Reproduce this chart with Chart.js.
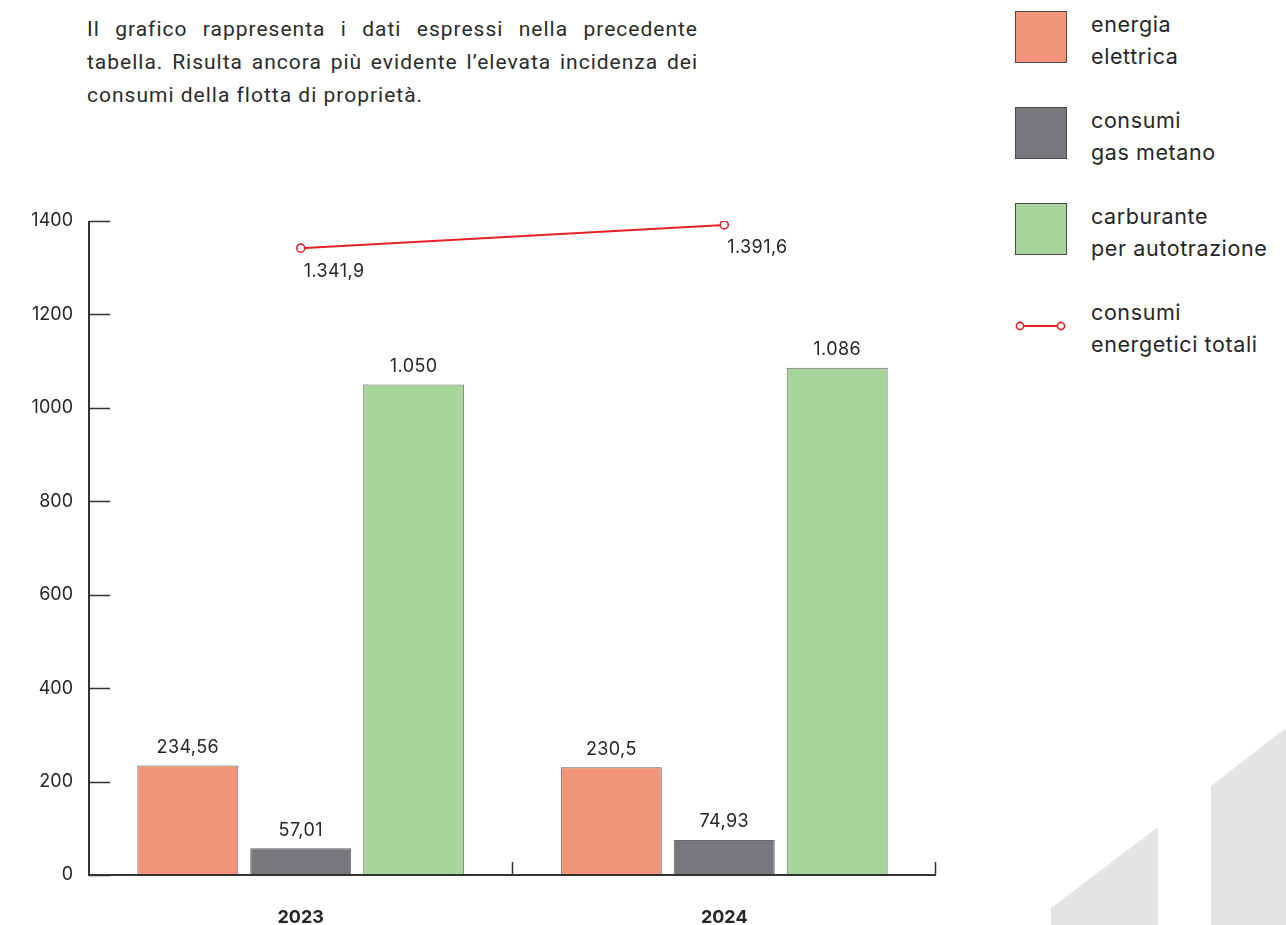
<!DOCTYPE html>
<html lang="it">
<head>
<meta charset="utf-8">
<script src="https://cdn.jsdelivr.net/npm/chart.js@4.4.1/dist/chart.umd.min.js"></script>
<style>
    html, body {
        margin: 0;
        padding: 0;
        background: #ffffff;
        width: 1286px;
        height: 925px;
        overflow: hidden;
        position: relative;
        font-family: "Inter", "Noto Sans", sans-serif;
        color: #262626;
    }
    #deco {
        position: absolute;
        left: 0;
        top: 0;
    }
    #intro {
        position: absolute;
        left: 87px;
        top: 13px;
        width: 611px;
        font-family: "Roboto", "Noto Sans", sans-serif;
        font-size: 21px;
        letter-spacing: 1px;
        line-height: 33px;
        margin: 0;
        color: #2b2b2b;
    }
    #intro .full {
        text-align: justify;
        text-align-last: justify;
    }
    #chart-wrap {
        position: absolute;
        left: 0;
        top: 0;
        width: 960px;
        height: 925px;
    }
    #legend {
        position: absolute;
        left: 1015px;
        top: 11px;
    }
    .legend-item {
        position: relative;
        height: 96px;
    }
    .legend-box {
        position: absolute;
        left: 0;
        top: 0;
        width: 52px;
        height: 52px;
        box-sizing: border-box;
        border: 1px solid #4a4a4a;
    }
    .legend-text {
        position: absolute;
        left: 76px;
        top: -3px;
        font-size: 21.5px;
        letter-spacing: 0.6px;
        line-height: 32px;
        white-space: nowrap;
        color: #262626;
    }
</style>
</head>
<body>
<svg id="deco" width="1286" height="925">
    <polygon points="1051,908 1158,827 1158,925 1051,925" fill="#e4e4e4"></polygon>
    <polygon points="1211,786 1286,728 1286,925 1211,925" fill="#e4e4e4"></polygon>
</svg>

<div id="intro">
    <div class="full">Il grafico rappresenta i dati espressi nella precedente</div>
    <div class="full">tabella. Risulta ancora più evidente l’elevata incidenza dei</div>
    <div>consumi della flotta di proprietà.</div>
</div>

<div id="chart-wrap"><canvas id="energy-chart" width="960" height="925"></canvas></div>

<div id="legend"></div>

<script>
// Data
const years = ["2023", "2024"];
const energiaElettrica = [234.56, 230.5];
const gasMetano = [57.01, 74.93];
const carburante = [1050, 1086];
const consumiTotali = [1341.9, 1391.6];
const yTicks = [0, 200, 400, 600, 800, 1000, 1200, 1400];

const seriesNames = {
    energia: ["energia", "elettrica"],
    gas: ["consumi", "gas metano"],
    carburante: ["carburante", "per autotrazione"],
    totali: ["consumi", "energetici totali"],
};

const colors = {
    energia: "#f0957a",
    gas: "#77787c",
    carburante: "#a7d59b",
    totali: "#e6212a",
    axis: "#333333",
    text: "#262626",
};

// Italian number format: 1.341,9
function formatIt(v) {
    const parts = String(v).split(".");
    const intPart = parts[0].replace(/\B(?=(\d{3})+(?!\d))/g, ".");
    return parts.length > 1 ? intPart + "," + parts[1] : intPart;
}

/**
 * Build the HTML legend on the right
 */
function buildLegend() {
    const legend = document.getElementById("legend");
    const items = [
        { key: "energia", type: "box" },
        { key: "gas", type: "box" },
        { key: "carburante", type: "box" },
        { key: "totali", type: "line" },
    ];
    items.forEach((item) => {
        const row = document.createElement("div");
        row.className = "legend-item";
        let symbol;
        if (item.type === "box") {
            symbol = `<div class="legend-box" style="background:${colors[item.key]}"></div>`;
        } else {
            symbol = `<svg style="position:absolute;left:0;top:20px" width="52" height="14">
                <line x1="5" y1="7" x2="46" y2="7" stroke="${colors.totali}" stroke-width="2"></line>
                <circle cx="5" cy="7" r="3.6" fill="#fff" stroke="${colors.totali}" stroke-width="1.6"></circle>
                <circle cx="46" cy="7" r="3.6" fill="#fff" stroke="${colors.totali}" stroke-width="1.6"></circle>
            </svg>`;
        }
        row.innerHTML =
            symbol +
            `<div class="legend-text">${seriesNames[item.key][0]}<br>${seriesNames[item.key][1]}</div>`;
        legend.appendChild(row);
    });
}

// Custom axes with inward tick marks
const axesPlugin = {
    id: "customAxes",
    afterDatasetsDraw(chart) {
        const { ctx, chartArea, scales } = chart;
        const y = scales.y;
        ctx.save();
        ctx.strokeStyle = colors.axis;
        ctx.lineWidth = 2;
        ctx.beginPath();
        ctx.moveTo(chartArea.left, y.getPixelForValue(1400));
        ctx.lineTo(chartArea.left, chartArea.bottom);
        ctx.lineTo(chartArea.right, chartArea.bottom);
        ctx.stroke();

        ctx.lineWidth = 1.5;
        ctx.beginPath();
        yTicks.forEach((t) => {
            const py = Math.round(y.getPixelForValue(t)) + 0.5;
            ctx.moveTo(chartArea.left, py);
            ctx.lineTo(chartArea.left + 21, py);
        });
        const step = (chartArea.right - chartArea.left) / years.length;
        for (let i = 1; i <= years.length; i++) {
            const px = Math.round(chartArea.left + step * i) - 0.5;
            ctx.moveTo(px, chartArea.bottom);
            ctx.lineTo(px, chartArea.bottom - 13);
        }
        ctx.stroke();
        ctx.restore();
    },
};

// Value labels above bars and below line points
const valueLabelsPlugin = {
    id: "valueLabels",
    afterDatasetsDraw(chart) {
        const { ctx } = chart;
        ctx.save();
        ctx.fillStyle = colors.text;
        ctx.font = '18px "Inter", "Noto Sans", sans-serif';
        ctx.letterSpacing = "0.4px";
        chart.data.datasets.forEach((ds, di) => {
            const meta = chart.getDatasetMeta(di);
            meta.data.forEach((el, i) => {
                const txt = formatIt(ds.data[i]);
                if (ds.type === "line") {
                    ctx.textAlign = "left";
                    ctx.textBaseline = "middle";
                    ctx.fillText(txt, el.x + 3, el.y + 23);
                } else {
                    ctx.textAlign = "center";
                    ctx.textBaseline = "bottom";
                    ctx.fillText(txt, el.x, el.y - 9);
                }
            });
        });
        ctx.restore();
    },
};

function createChart() {
    const ctx = document.getElementById("energy-chart");

    new Chart(ctx, {
        type: "bar",
        data: {
            labels: years,
            datasets: [
                {
                    type: "line",
                    label: seriesNames.totali.join(" "),
                    data: consumiTotali,
                    borderColor: colors.totali,
                    borderWidth: 2,
                    pointRadius: 4,
                    pointBackgroundColor: "#ffffff",
                    pointBorderColor: colors.totali,
                    pointBorderWidth: 1.6,
                    tension: 0,
                    order: 0,
                },
                {
                    label: seriesNames.energia.join(" "),
                    data: energiaElettrica,
                    backgroundColor: colors.energia,
                    borderColor: "rgba(50, 50, 50, 0.75)",
                    borderWidth: 1,
                    order: 1,
                },
                {
                    label: seriesNames.gas.join(" "),
                    data: gasMetano,
                    backgroundColor: colors.gas,
                    borderColor: "rgba(50, 50, 50, 0.75)",
                    borderWidth: 1,
                    order: 1,
                },
                {
                    label: seriesNames.carburante.join(" "),
                    data: carburante,
                    backgroundColor: colors.carburante,
                    borderColor: "rgba(50, 50, 50, 0.75)",
                    borderWidth: 1,
                    order: 1,
                },
            ],
        },
        options: {
            responsive: false,
            animation: false,
            layout: {
                padding: { left: 0, top: 221, right: 24, bottom: 0 },
            },
            datasets: {
                bar: {
                    categoryPercentage: 0.8,
                    barPercentage: 0.894,
                },
            },
            scales: {
                x: {
                    grid: { display: false },
                    border: { display: false },
                    ticks: {
                        color: colors.text,
                        padding: 24,
                        font: { family: "Inter", size: 18, weight: "bold" },
                    },
                    afterFit(scale) {
                        scale.height = 50;
                    },
                },
                y: {
                    min: 0,
                    max: 1400,
                    grid: { display: false },
                    border: { display: false },
                    ticks: {
                        stepSize: 200,
                        color: colors.text,
                        padding: 8,
                        font: { family: "Inter", size: 18 },
                        callback: (value) => String(value),
                    },
                    afterFit(scale) {
                        scale.width = 89;
                    },
                },
            },
            plugins: {
                legend: { display: false },
                tooltip: { enabled: false },
            },
        },
        plugins: [axesPlugin, valueLabelsPlugin],
    });
}

buildLegend();
createChart();
</script>
</body>
</html>
